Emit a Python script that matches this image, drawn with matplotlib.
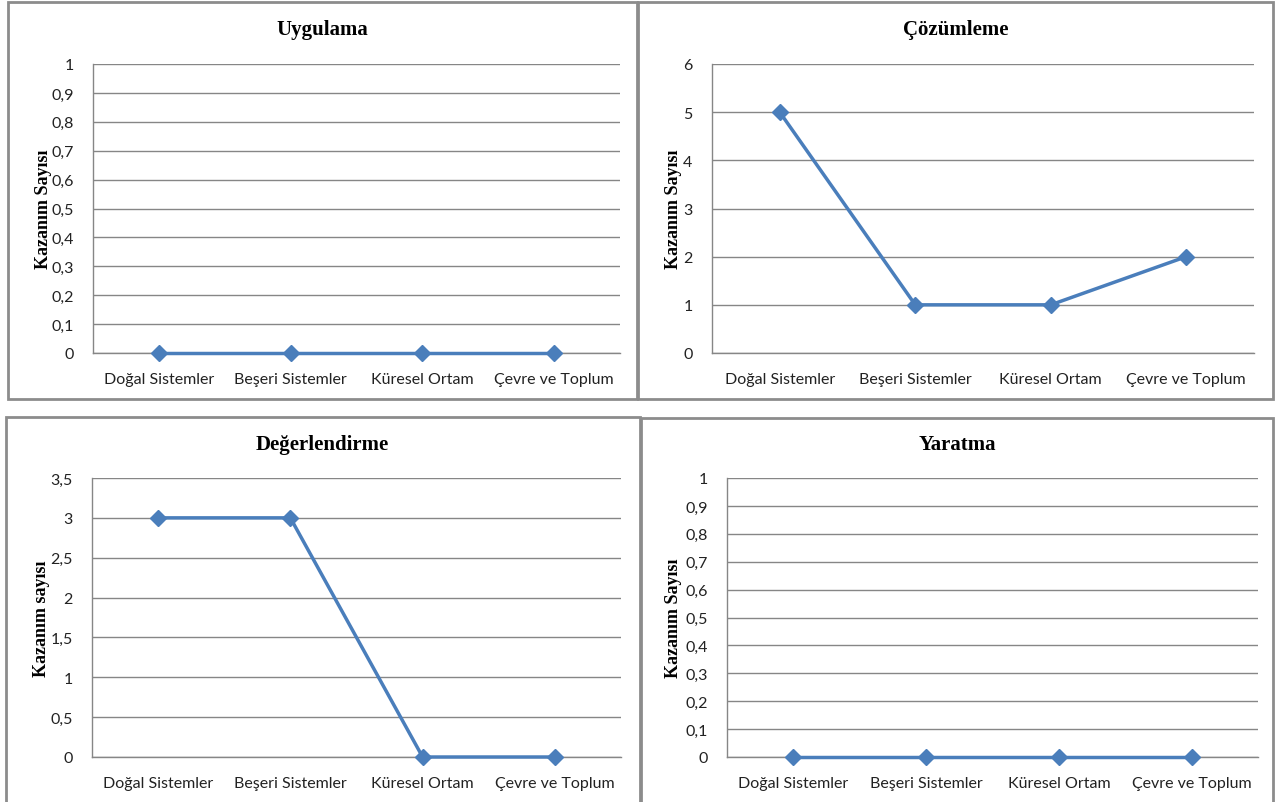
import matplotlib
matplotlib.use("Agg")
import matplotlib.pyplot as plt
from matplotlib.patches import Rectangle

W, H = 1276, 803
DPI = 100

categories = ["Doğal Sistemler", "Beşeri Sistemler", "Küresel Ortam", "Çevre ve Toplum"]

uygulama = [0, 0, 0, 0]
cozumleme = [5, 1, 1, 2]
degerlendirme = [3, 3, 0, 0]
yaratma = [0, 0, 0, 0]

titles = ["Uygulama", "Çözümleme", "Değerlendirme", "Yaratma"]
ylabels = ["Kazanım Sayısı", "Kazanım Sayısı", "Kazanım sayısı", "Kazanım Sayısı"]

ticks_unit = [0, 0.1, 0.2, 0.3, 0.4, 0.5, 0.6, 0.7, 0.8, 0.9, 1]
ticklabels_unit = ["0", "0,1", "0,2", "0,3", "0,4", "0,5", "0,6", "0,7", "0,8", "0,9", "1"]
ticks_six = [0, 1, 2, 3, 4, 5, 6]
ticklabels_six = ["0", "1", "2", "3", "4", "5", "6"]
ticks_35 = [0, 0.5, 1, 1.5, 2, 2.5, 3, 3.5]
ticklabels_35 = ["0", "0,5", "1", "1,5", "2", "2,5", "3", "3,5"]

LINE = "#4A7EBB"
GRID = "#868686"
BORDER = "#8C8C8C"

fig = plt.figure(figsize=(W / DPI, H / DPI), dpi=DPI)

def frac(x0, y0, x1, y1):
    return [x0 / W, 1 - y1 / H, (x1 - x0) / W, (y1 - y0) / H]

# panel borders (pixel boxes)
boxes = [(8, 3, 637, 400), (638, 3, 1273, 400), (6, 418, 640, 810), (641, 419, 1273, 810)]
for (x0, y0, x1, y1) in boxes:
    r = Rectangle((x0 / W, 1 - y1 / H), (x1 - x0) / W, (y1 - y0) / H,
                  transform=fig.transFigure, fill=False, edgecolor=BORDER, linewidth=2.0)
    fig.patches.append(r)

panels = [
    (frac(93, 65, 620, 354), uygulama, ticks_unit, ticklabels_unit, 43, 322, 30),
    (frac(712, 65, 1254, 354), cozumleme, ticks_six, ticklabels_six, 673, 956, 30),
    (frac(92, 479, 621, 758), degerlendirme, ticks_35, ticklabels_35, 41, 322, 445),
    (frac(727, 479, 1258, 758), yaratma, ticks_unit, ticklabels_unit, 673, 957, 445),
]

for i, (pos, vals, ticks, tlabels, ylx, tx, ty) in enumerate(panels):
    ax = fig.add_axes(pos)
    xs = [k + 0.5 for k in range(len(categories))]
    ax.plot(xs, vals, color=LINE, linewidth=2.5, marker="D", markersize=8,
            markerfacecolor=LINE, markeredgecolor=LINE, zorder=5, clip_on=False)
    ax.set_xlim(0, len(categories))
    ax.set_ylim(ticks[0], ticks[-1])
    ax.set_yticks(ticks)
    ax.set_yticklabels(tlabels, family="Lato", fontsize=11.5, color="#222222")
    ax.set_xticks(xs)
    ax.set_xticklabels(categories, family="Lato", fontsize=11.5, color="#222222")
    ax.tick_params(axis="both", length=0)
    ax.tick_params(axis="y", pad=14)
    ax.tick_params(axis="x", pad=14)
    ax.grid(axis="y", color=GRID, linewidth=1.0)
    ax.set_axisbelow(True)
    for s in ["top", "right"]:
        ax.spines[s].set_visible(False)
    for s in ["left", "bottom"]:
        ax.spines[s].set_color(GRID)
        ax.spines[s].set_linewidth(1.0)
    x0px = pos[0] * W
    wpx = pos[2] * W
    ax.set_ylabel(ylabels[i], family="Liberation Serif", fontweight="bold", fontsize=13,
                  va="center")
    ax.yaxis.set_label_coords((ylx - x0px) / wpx, 0.5)
    fig.text(tx / W, 1 - ty / H, titles[i], family="Liberation Serif", fontweight="bold",
             fontsize=15, ha="center", va="center")

fig.savefig("out.png", dpi=DPI, facecolor="white")
